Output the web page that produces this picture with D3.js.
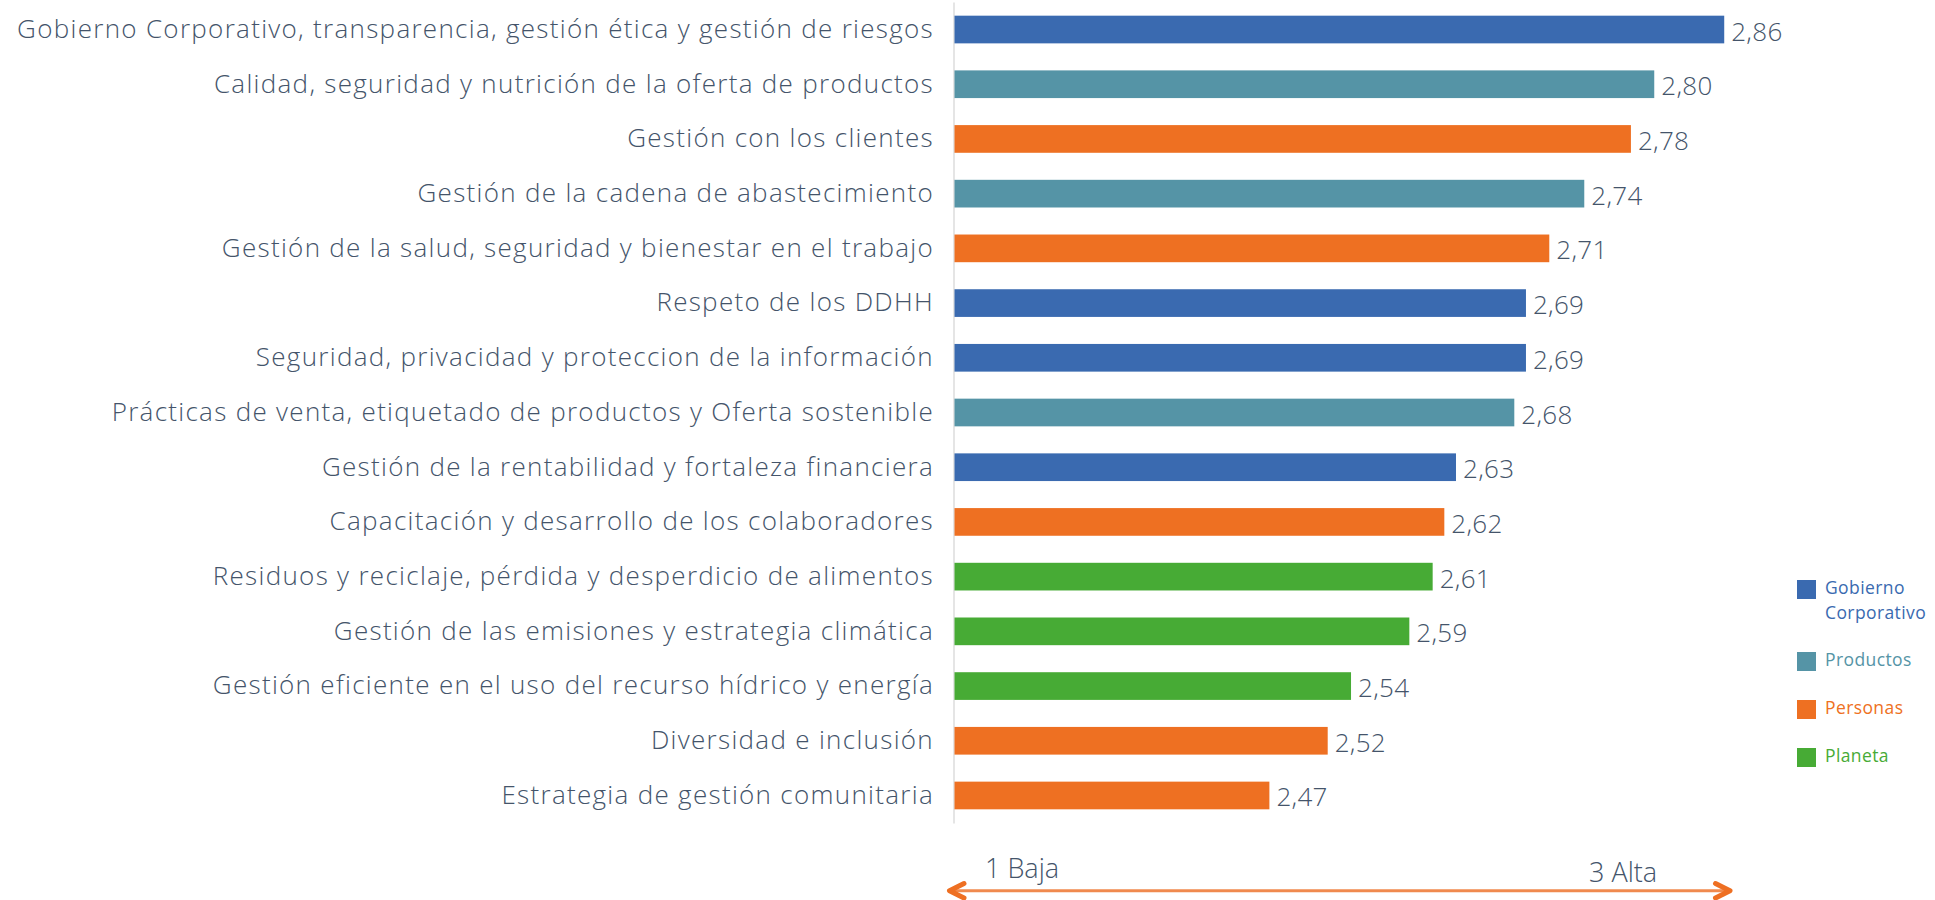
<!DOCTYPE html>
<html>
<head>
<meta charset="utf-8">
<script src="https://cdn.jsdelivr.net/npm/d3@7"></script>
<style>
  html, body { margin: 0; padding: 0; background: #ffffff; }
  svg { display: block; }
  text { font-family: "Open Sans", "Noto Sans", sans-serif; }
</style>
</head>
<body>
<svg id="chart" width="1935" height="900"></svg>
<script>
// ---- Data ----
const categories = [
  "Gobierno Corporativo, transparencia, gestión ética y gestión de riesgos",
  "Calidad, seguridad y nutrición de la oferta de productos",
  "Gestión con los clientes",
  "Gestión de la cadena de abastecimiento",
  "Gestión de la salud, seguridad y bienestar en el trabajo",
  "Respeto de los DDHH",
  "Seguridad, privacidad y proteccion de la información",
  "Prácticas de venta, etiquetado de productos y Oferta sostenible",
  "Gestión de la rentabilidad y fortaleza financiera",
  "Capacitación y desarrollo de los colaboradores",
  "Residuos y reciclaje, pérdida y desperdicio de alimentos",
  "Gestión de las emisiones y estrategia climática",
  "Gestión eficiente en el uso del recurso hídrico y energía",
  "Diversidad e inclusión",
  "Estrategia de gestión comunitaria"
];
const values = [2.86, 2.80, 2.78, 2.74, 2.71, 2.69, 2.69, 2.68, 2.63, 2.62, 2.61, 2.59, 2.54, 2.52, 2.47];
const groups = ["Gobierno", "Productos", "Personas", "Productos", "Personas", "Gobierno", "Gobierno",
                "Productos", "Gobierno", "Personas", "Planeta", "Planeta", "Planeta", "Personas", "Personas"];
const groupKeys = ["Gobierno", "Productos", "Personas", "Planeta"];
const legendLabels = [["Gobierno", "Corporativo"], ["Productos"], ["Personas"], ["Planeta"]];
const scaleLabels = ["1 Baja", "3 Alta"];
const xDomain = [2.2, 3.0];

// ---- Styles ----
const colorScale = d3.scaleOrdinal()
  .domain(groupKeys)
  .range(["#3a6ab0", "#5594a6", "#ee7022", "#47ab35"]);
const textColor = "#44546a";

const svg = d3.select("#chart");

const x = d3.scaleLinear().domain(xDomain).range([954.5, 1887.5]);
const y = d3.scaleBand().domain(categories).range([2, 823]).paddingInner(0.494).paddingOuter(0.25);

// Category axis
const yAxis = d3.axisLeft(y).tickSize(0).tickSizeOuter(0).tickPadding(19.5);
const gAxis = svg.append("g")
  .attr("transform", "translate(953.5,0)")
  .call(yAxis);
gAxis.select(".domain").attr("stroke", "#dcdcdc").attr("stroke-width", 1.5);
gAxis.selectAll(".tick text")
  .attr("fill", textColor)
  .style("font-size", "26px")
  .style("font-weight", 300)
  .style("letter-spacing", "1.3px")
  .style("font-family", "'Open Sans', 'Noto Sans', sans-serif");

// Bars
const rows = categories.map((c, i) => ({ cat: c, val: values[i], grp: groups[i] }));
svg.append("g").selectAll("rect")
  .data(rows)
  .join("rect")
  .attr("x", x(xDomain[0]))
  .attr("y", d => y(d.cat))
  .attr("width", d => x(d.val) - x(xDomain[0]))
  .attr("height", y.bandwidth())
  .attr("fill", d => colorScale(d.grp));

// Value labels
const fmt = d3.formatLocale({ decimal: ",", thousands: ".", grouping: [3], currency: ["", ""] }).format(".2f");
svg.append("g").selectAll("text")
  .data(rows)
  .join("text")
  .attr("x", d => x(d.val) + 7)
  .attr("y", d => y(d.cat) + y.bandwidth() / 2 + 11)
  .attr("fill", textColor)
  .style("font-size", "26px")
  .style("font-weight", 300)
  .style("letter-spacing", "0.3px")
  .text(d => fmt(d.val));

// Legend
const legend = svg.append("g");
let ly = 580;
groupKeys.forEach((k, i) => {
  legend.append("rect")
    .attr("x", 1797).attr("y", ly)
    .attr("width", 19).attr("height", 19)
    .attr("fill", colorScale(k));
  const t = legend.append("text")
    .attr("x", 1825).attr("y", ly + 13.5)
    .attr("fill", colorScale(k))
    .style("font-size", "17.5px")
    .style("letter-spacing", "0.4px")
    .style("font-family", "'Open Sans', sans-serif");
  legendLabels[i].forEach((line, j) => {
    t.append("tspan").attr("x", 1825).attr("dy", j === 0 ? 0 : 25).text(line);
  });
  ly += legendLabels[i].length * 24 + 24;
});

// Bottom scale arrow
const arrow = svg.append("g");
arrow.append("line")
  .attr("x1", 951).attr("x2", 1728)
  .attr("y1", 890.7).attr("y2", 890.7)
  .attr("stroke", "#f08a4e").attr("stroke-width", 3);
arrow.append("path")
  .attr("d", "M964,883.5 L949.5,890.7 L964,898")
  .attr("fill", "none").attr("stroke", "#ee6f22").attr("stroke-width", 5)
  .attr("stroke-linecap", "round").attr("stroke-linejoin", "round");
arrow.append("path")
  .attr("d", "M1715.5,883.5 L1730,890.7 L1715.5,898")
  .attr("fill", "none").attr("stroke", "#ee6f22").attr("stroke-width", 5)
  .attr("stroke-linecap", "round").attr("stroke-linejoin", "round");
arrow.append("text")
  .attr("x", 985).attr("y", 878)
  .attr("fill", textColor)
  .style("font-size", "27px").style("font-weight", 300)
  .text(scaleLabels[0]);
arrow.append("text")
  .attr("x", 1589).attr("y", 882)
  .attr("fill", textColor)
  .style("font-size", "27px").style("font-weight", 300)
  .text(scaleLabels[1]);
</script>
</body>
</html>
